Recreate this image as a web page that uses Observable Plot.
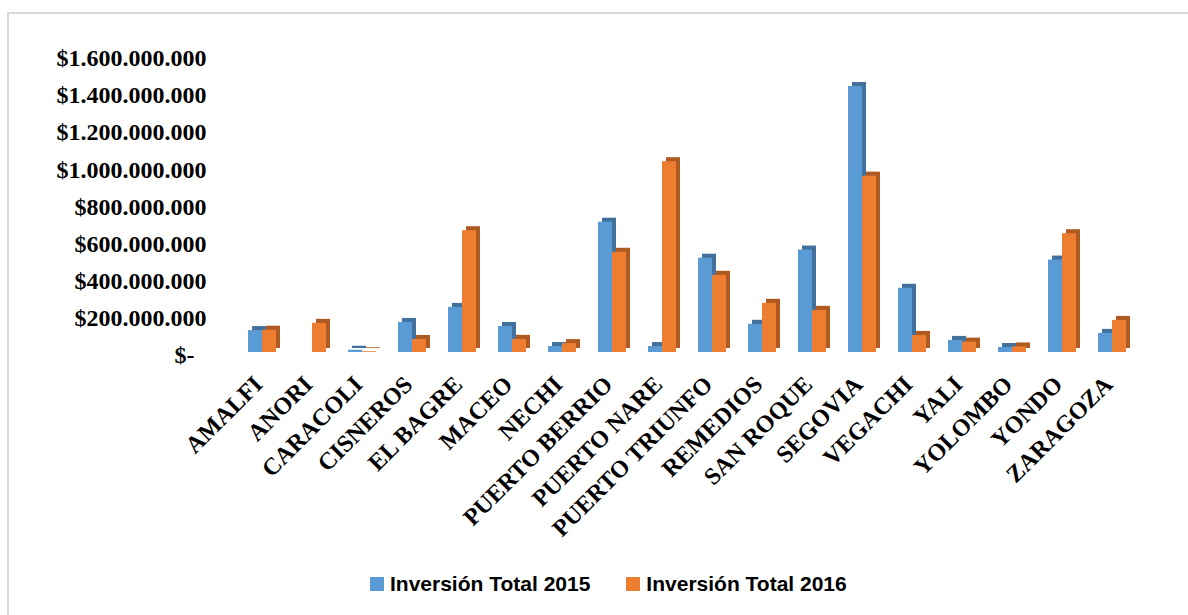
<!DOCTYPE html>
<html>
<head>
<meta charset="utf-8">
<script src="https://cdn.jsdelivr.net/npm/d3@7"></script>
<script src="https://cdn.jsdelivr.net/npm/@observablehq/plot@0.6"></script>
<style>
  html, body { margin: 0; padding: 0; background: #fff; width: 1188px; height: 615px; overflow: hidden; }
  #frame { position: absolute; left: 7px; top: 12px; width: 1300px; height: 700px; border-left: 2px solid #d9d9d9; border-top: 2px solid #d9d9d9; }
  #chart { position: absolute; left: 0; top: 0; }
  #legend { position: absolute; left: 370px; top: 572px; display: flex; align-items: center; font-family: "Liberation Sans", Arial, sans-serif; font-weight: bold; font-size: 21px; color: #000; }
  .sw { width: 14px; height: 14px; display: inline-block; margin-right: 6px; }
  .item { display: flex; align-items: center; margin-right: 36px; }
</style>
</head>
<body>
<div id="frame"></div>
<div id="chart"></div>
<div id="legend"></div>
<script>
const categories = ["AMALFI","ANORI","CARACOLI","CISNEROS","EL BAGRE","MACEO","NECHI","PUERTO BERRIO","PUERTO NARE","PUERTO TRIUNFO","REMEDIOS","SAN ROQUE","SEGOVIA","VEGACHI","YALI","YOLOMBO","YONDO","ZARAGOZA"];
const inversion2015 = [118e6, 0, 12e6, 162e6, 243e6, 140e6, 32e6, 702e6, 32e6, 508e6, 152e6, 552e6, 1433e6, 346e6, 65e6, 27e6, 498e6, 103e6];
const inversion2016 = [120e6, 157e6, 4e6, 70e6, 656e6, 71e6, 48e6, 540e6, 1028e6, 416e6, 265e6, 227e6, 950e6, 92e6, 56e6, 30e6, 640e6, 173e6];
const yTicks = [0, 2e8, 4e8, 6e8, 8e8, 10e8, 12e8, 14e8, 16e8];
const seriesNames = ["Inversión Total 2015", "Inversión Total 2016"];
const seriesColors = ["#5b9bd5", "#ed7d31"];
const sideColors = ["#41719c", "#ae5a21"];

const data = categories.map((c, i) => ({cat: c, v2015: inversion2015[i], v2016: inversion2016[i]}));

const fmt = v => v === 0 ? "$-\u00a0\u00a0" : "$" + d3.format(",")(v).replace(/,/g, ".");

const chart = Plot.plot({
  width: 1188,
  height: 560,
  marginLeft: 237,
  marginRight: 51,
  marginTop: 55,
  marginBottom: 208,
  style: {fontFamily: "'Liberation Serif', 'Times New Roman', serif", background: "transparent", color: "#000"},
  x: {type: "band", domain: categories, paddingInner: 0.44, paddingOuter: 0.22},
  y: {domain: [0, 1.6e9]},
  marks: [
    Plot.barY(data, {x: "cat", y: "v2015", fill: sideColors[0], insetRight: 14, dx: 4, dy: -4}),
    Plot.barY(data, {x: "cat", y: "v2015", fill: seriesColors[0], insetRight: 14}),
    Plot.barY(data, {x: "cat", y: "v2016", fill: sideColors[1], insetLeft: 14, dx: 4, dy: -4}),
    Plot.barY(data, {x: "cat", y: "v2016", fill: seriesColors[1], insetLeft: 14}),
    Plot.axisY({ticks: yTicks, tickFormat: fmt, tickSize: 0, tickPadding: 31, fontSize: 24, fontWeight: "bold", label: null, dy: 3}),
    Plot.axisX({tickRotate: -45, tickSize: 0, tickPadding: 28, fontSize: 24, fontWeight: "bold", label: null, dx: -4})
  ]
});
document.getElementById("chart").appendChild(chart);

const legend = document.getElementById("legend");
seriesNames.forEach((n, i) => {
  const it = document.createElement("div");
  it.className = "item";
  const sw = document.createElement("span");
  sw.className = "sw";
  sw.style.background = seriesColors[i];
  it.appendChild(sw);
  const t = document.createElement("span");
  t.textContent = n;
  it.appendChild(t);
  legend.appendChild(it);
});
</script>
</body>
</html>
